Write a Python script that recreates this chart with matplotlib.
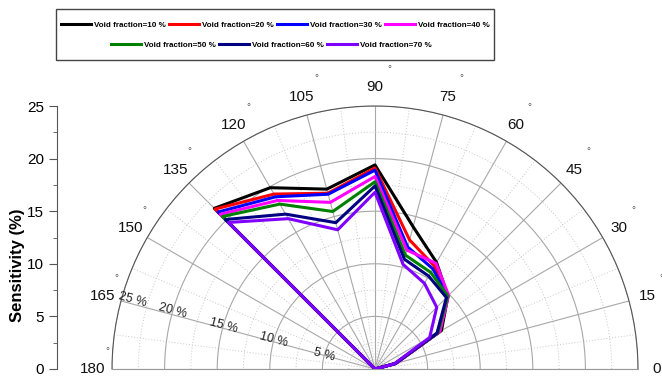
import numpy as np
import matplotlib.pyplot as plt
from matplotlib import font_manager
from matplotlib.patches import Rectangle

# 数据：各空隙率下不同角度的灵敏度 (%)
angles_deg = [0, 15, 30, 45, 60, 75, 90, 105, 120, 135, 150, 165, 180]
void_labels = ["Void fraction=10 %", "Void fraction=20 %", "Void fraction=30 %",
               "Void fraction=40 %", "Void fraction=50 %", "Void fraction=60 %",
               "Void fraction=70 %"]
vf10 = [0, 2.0, 7.3, 9.8, 11.7, 14.0, 19.4, 17.7, 19.9, 21.6, 0, 0, 0]
vf20 = [0, 2.0, 7.1, 9.8, 11.3, 12.7, 19.1, 17.3, 19.2, 21.5, 0, 0, 0]
vf30 = [0, 2.0, 7.0, 9.8, 11.0, 12.0, 18.9, 17.2, 18.9, 21.1, 0, 0, 0]
vf40 = [0, 2.1, 7.1, 9.9, 11.6, 11.7, 18.3, 16.4, 18.5, 20.8, 0, 0, 0]
vf50 = [0, 2.0, 6.9, 9.8, 10.6, 11.2, 17.8, 15.5, 18.1, 20.5, 0, 0, 0]
vf60 = [0, 2.0, 6.8, 9.6, 10.2, 10.8, 17.4, 14.4, 17.0, 20.1, 0, 0, 0]
vf70 = [0, 1.9, 6.0, 8.3, 9.4, 10.3, 16.8, 13.7, 16.5, 19.7, 0, 0, 0]
series = [vf10, vf20, vf30, vf40, vf50, vf60, vf70]
colors = ["#000000", "#ff0000", "#0000ff", "#ff00ff", "#008000", "#000080", "#7f00ff"]

theta_ticks = list(range(0, 181, 15))
r_ticks = [5, 10, 15, 20, 25]
y_ticks = [0, 5, 10, 15, 20, 25]

plt.rcParams['font.family'] = ['Liberation Sans', 'DejaVu Sans']
names = {f.name for f in font_manager.fontManager.ttflist}
legend_family = 'Liberation Sans Narrow' if 'Liberation Sans Narrow' in names else 'Liberation Sans'

W, H = 662, 378
cx, cy, R = 375, 369, 263
fig = plt.figure(figsize=(W / 100, H / 100), dpi=100)

# 半圆在方形坐标框里居中，所以框边长取 2R
sq_bottom = cy - R / 2 + R   # 方框下边（像素，自上而下）
ax = fig.add_axes([(cx - R) / W, (H - sq_bottom) / H, 2 * R / W, 2 * R / H], projection='polar')
ax.set_thetamin(0)
ax.set_thetamax(180)
ax.set_ylim(0, 25)

th = np.deg2rad(angles_deg)
handles = []
for vals, c, lab in zip(series, colors, void_labels):
    ln, = ax.plot(th, vals, color=c, lw=2.2, label=lab, zorder=3)
    handles.append(ln)

ax.set_xticks(np.deg2rad(theta_ticks))
ax.set_xticks(np.deg2rad(np.arange(7.5, 180, 15)), minor=True)
ax.set_xticklabels([])
ax.set_yticks(r_ticks)
ax.set_yticks(np.arange(2.5, 25, 5), minor=True)
ax.set_yticklabels([])
ax.grid(which='major', color='#a8a8a8', lw=0.8, ls='-')
ax.grid(which='minor', color='#c8c8c8', lw=0.7, ls=(0, (1, 2)))
ax.tick_params(axis='x', which='minor', direction='in', length=5, color='#555555')
ax.tick_params(axis='x', which='major', length=0)
ax.tick_params(axis='y', which='both', length=0)
ax.spines['polar'].set_color('#555555')
ax.spines['start'].set_color('#999999')
ax.spines['end'].set_color('#999999')

for t in theta_ticks:
    ax.text(np.deg2rad(t), 26.8, str(t), ha='center', va='center', fontsize=11, color='#111111')
    if t > 0:  # 0° 的度数符号在画面外
        ax.annotate('°', xy=(np.deg2rad(t), 26.8), xytext=(10, 13), textcoords='offset points',
                    ha='center', va='center', fontsize=7, color='#555555', annotation_clip=False)

for v in r_ticks:
    ax.text(np.deg2rad(164), min(v, 24), f"{v} %", rotation=-15, rotation_mode='anchor',
            ha='center', va='center', fontsize=9, color='#222222')

# 左侧灵敏度坐标轴
ax2 = fig.add_axes([57 / W, (H - cy) / H, 0.0001, R / H])
ax2.set_ylim(0, 25)
ax2.set_yticks(y_ticks)
ax2.set_yticks(np.arange(2.5, 25, 5), minor=True)
ax2.tick_params(axis='y', which='major', length=6, labelsize=11, color='#555555')
ax2.tick_params(axis='y', which='minor', length=3, color='#555555')
ax2.xaxis.set_visible(False)
for s in ['top', 'right', 'bottom']:
    ax2.spines[s].set_visible(False)
ax2.spines['left'].set_color('#555555')
ax2.patch.set_visible(False)
fig.text(18 / W, 1 - 265 / H, 'Sensitivity (%)', rotation=90, ha='center', va='center',
         fontsize=12, fontweight='bold')

# 图例：两行，外加边框
prop = {'family': legend_family, 'weight': 'bold', 'size': 5.8}
leg_kw = dict(loc='center', frameon=False, prop=prop, handlelength=3.7, handletextpad=0.37,
              columnspacing=0.43, borderpad=0, borderaxespad=0)
fig.legend(handles[:4], void_labels[:4], bbox_to_anchor=(0.416, 0.933), ncol=4, **leg_kw)
fig.legend(handles[4:], void_labels[4:], bbox_to_anchor=(0.41, 0.88), ncol=3, **leg_kw)
fig.add_artist(Rectangle((56 / W, 1 - 60 / H), 438 / W, 51 / H, transform=fig.transFigure,
                         fill=False, ec='#444444', lw=1))

fig.savefig('out.png', dpi=100)
